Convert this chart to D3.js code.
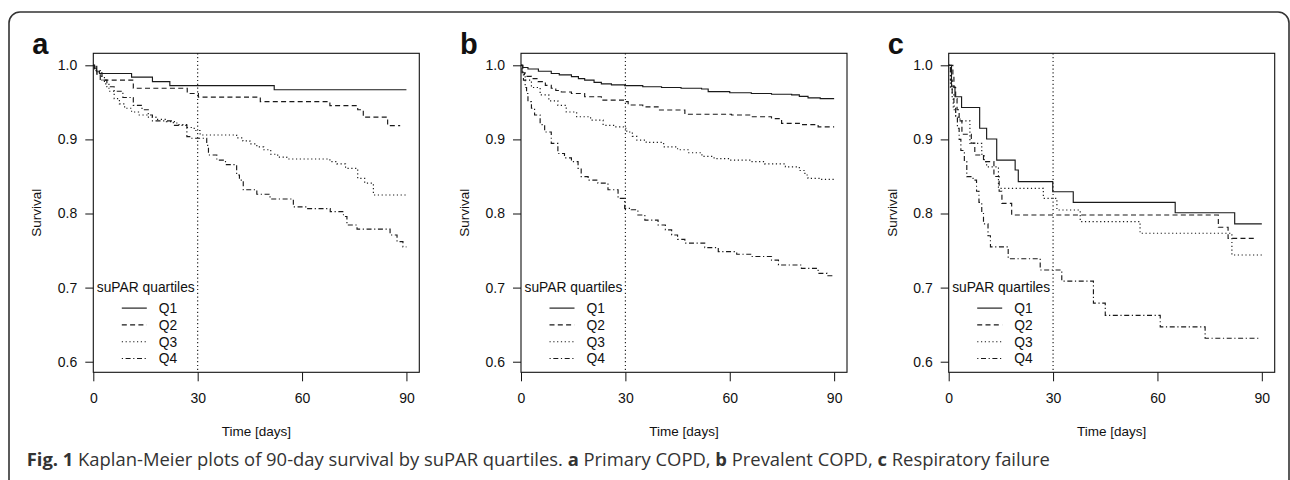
<!DOCTYPE html>
<html>
<head>
<meta charset="utf-8">
<script src="https://cdn.jsdelivr.net/npm/d3@7"></script>
<style>
  body { margin: 0; background: #fff; }
  svg text { font-family: "Liberation Sans", Arial, sans-serif; fill: #111; }
  .caption { font-family: "Open Sans", sans-serif; fill: #333; }
</style>
</head>
<body>
<svg id="chart" width="1290" height="480"></svg>
<script>
// 90-day Kaplan-Meier curves, [day, survival] (steps), last pair = end of follow-up
var aQ1 = [[0,1],[0.4,0.996],[0.9,0.992],[1.8,0.989],[11,0.984],[17,0.978],[22,0.9725],[52,0.967],[90,0.967]];
var aQ2 = [[0,1],[0.3,0.995],[1,0.988],[2,0.98],[11.5,0.969],[27,0.962],[30.2,0.957],[48,0.951],[68,0.9455],[76,0.94],[77.6,0.93],[84.6,0.9185],[88.2,0.9185]];
var aQ3 = [[0,1],[0.8,0.993],[2,0.985],[3.2,0.975],[4.5,0.965],[6,0.955],[7.5,0.948],[9,0.942],[11,0.937],[13,0.933],[15.4,0.93],[18,0.927],[21,0.924],[24,0.92],[27,0.916],[29,0.912],[30.7,0.906],[41.2,0.902],[43,0.898],[45,0.894],[47,0.89],[49,0.886],[51,0.88],[53,0.876],[55.6,0.8735],[68,0.87],[70,0.867],[72.5,0.861],[76,0.8475],[78,0.841],[80.5,0.825],[90,0.825]];
var aQ4 = [[0,1],[1,0.99],[2.5,0.98],[3.9,0.971],[6,0.965],[8.5,0.9565],[11.5,0.946],[14,0.94],[15.8,0.933],[17,0.925],[23,0.919],[26.9,0.9037],[28,0.9015],[32.6,0.892],[33.1,0.879],[35.5,0.872],[38,0.866],[41.2,0.852],[42,0.845],[43.1,0.832],[47,0.826],[50.8,0.8196],[57.5,0.809],[61.4,0.8065],[68.1,0.8025],[71.9,0.796],[72.9,0.7845],[75.8,0.779],[85.3,0.771],[87.3,0.762],[89,0.755],[90,0.755]];

var bQ1 = [[0,1],[0.5,0.997],[2,0.995],[5,0.992],[8.7,0.989],[11,0.987],[14.5,0.9847],[16.5,0.982],[18.3,0.98],[21,0.977],[23.1,0.975],[26,0.9735],[29.8,0.9725],[35,0.971],[40.4,0.97],[46,0.969],[51.9,0.968],[53.8,0.9644],[60,0.963],[66.2,0.962],[72,0.961],[77.8,0.96],[80,0.958],[82.5,0.956],[86,0.955],[90,0.955]];
var bQ2 = [[0,1],[0.5,0.99],[1,0.985],[3,0.982],[4.9,0.978],[7,0.973],[8.7,0.969],[10,0.966],[11.6,0.964],[14.5,0.962],[18.3,0.9576],[23.1,0.953],[29.8,0.951],[30.8,0.9464],[35,0.944],[39.4,0.9397],[47.1,0.934],[60.5,0.933],[66.2,0.9306],[72,0.928],[74.9,0.9217],[80,0.92],[85.4,0.917],[90,0.917]];
var bQ3 = [[0,1],[0.5,0.99],[1.2,0.98],[3,0.97],[5.5,0.96],[8,0.952],[10.6,0.946],[13,0.937],[16,0.9306],[20,0.926],[23.6,0.919],[27,0.917],[29.4,0.915],[30.4,0.91],[32,0.904],[33.3,0.899],[36,0.896],[41,0.89],[45,0.886],[48,0.882],[52,0.877],[55.5,0.874],[60,0.872],[66,0.87],[70,0.867],[76,0.863],[80,0.858],[81.6,0.852],[82.5,0.8475],[86,0.846],[90,0.846]];
var bQ4 = [[0,1],[0.3,0.99],[0.7,0.98],[1.2,0.97],[1.6,0.962],[2,0.951],[3,0.942],[3.9,0.933],[5.5,0.92],[6.8,0.91],[8.7,0.8947],[10.6,0.881],[12.5,0.875],[14.5,0.87],[16.4,0.861],[17.3,0.8497],[19.3,0.845],[22.1,0.841],[25,0.832],[27.9,0.8205],[29.8,0.807],[31.7,0.805],[33.6,0.798],[35.6,0.791],[39.4,0.7845],[41.5,0.778],[43.3,0.771],[45,0.765],[47.1,0.76],[52.8,0.754],[56.7,0.7485],[62,0.745],[66.2,0.742],[72,0.737],[74,0.7305],[80.6,0.726],[85.4,0.7193],[88,0.716],[90,0.716]];

var cQ1 = [[0,1],[0.8,0.971],[1.8,0.9576],[3.7,0.943],[8.9,0.915],[10.9,0.9005],[13.8,0.872],[19.1,0.8587],[20,0.843],[29.9,0.8294],[35.8,0.815],[65.1,0.801],[82.2,0.786],[90,0.786]];
var cQ2 = [[0,1],[1.2,0.985],[1.5,0.97],[2,0.955],[2.4,0.94],[3,0.925],[3.8,0.907],[6.5,0.895],[7.5,0.879],[10,0.87],[13,0.85],[14.5,0.83],[15.3,0.8137],[18.1,0.798],[77.5,0.7814],[80.3,0.7665],[88.6,0.7665]];
var cQ3 = [[0,1],[0.5,0.97],[1,0.955],[1.3,0.94],[2,0.93],[3.25,0.925],[6.1,0.8947],[9.5,0.88],[10.2,0.87],[10.9,0.863],[14.3,0.834],[27.2,0.8205],[31.1,0.8047],[37.8,0.789],[55,0.7733],[81.4,0.744],[90,0.744]];
var cQ4 = [[0,1],[0.5,0.98],[1,0.96],[1.5,0.945],[2,0.93],[2.5,0.915],[3,0.9],[3.5,0.885],[4.5,0.87],[5.2,0.8497],[7,0.845],[8,0.83],[8.7,0.815],[9.5,0.8],[10,0.786],[11.3,0.77],[12,0.755],[17.1,0.739],[26.3,0.7237],[32.5,0.7088],[41.6,0.679],[45,0.6625],[60.8,0.647],[73.7,0.6316],[89,0.6316]];

var panelLetters = ["a", "b", "c"];
var quartiles = ["Q1", "Q2", "Q3", "Q4"];
var xTicks = [0, 30, 60, 90];
var yTicks = [0.6, 0.7, 0.8, 0.9, 1.0];
var markDay = 30;
var legendTitle = "suPAR quartiles";

var svg = d3.select("#chart");
var panels = [
  {letter: panelLetters[0], left: 93.3, curves: [aQ1, aQ2, aQ3, aQ4]},
  {letter: panelLetters[1], left: 521, curves: [bQ1, bQ2, bQ3, bQ4]},
  {letter: panelLetters[2], left: 948.7, curves: [cQ1, cQ2, cQ3, cQ4]}
];
var plotTop = 53.3, w = 326, h = 319;
var dashes = [null, "5,3.3", "1.2,2.6", "1.2,2.6,5,2.6"];

// outer rounded frame
svg.append("rect")
  .attr("x", 9).attr("y", 12).attr("width", 1280).attr("height", 500)
  .attr("rx", 11).attr("fill", "none")
  .attr("stroke", "#333").attr("stroke-width", 1.6);

panels.forEach(function(p){
  var x = d3.scaleLinear().domain([0, 93.7]).range([0, w]);
  var y = d3.scaleLinear().domain([0.5857, 1.0162]).range([h, 0]);
  var g = svg.append("g").attr("transform", "translate(" + p.left + "," + plotTop + ")");

  //坐标轴
  var ya = g.append("g").call(d3.axisLeft(y).tickValues(yTicks).tickSize(8).tickPadding(8)
    .tickFormat(d3.format(".1f")));
  var xa = g.append("g").attr("transform", "translate(0," + h + ")")
    .call(d3.axisBottom(x).tickValues(xTicks).tickSize(9).tickPadding(12));
  [ya, xa].forEach(function(a){
    a.select(".domain").remove();
    a.selectAll("line").attr("stroke", "#111");
    a.selectAll("text").attr("font-size", 14).attr("fill", "#111")
      .attr("font-family", "Liberation Sans, Arial, sans-serif");
  });

  // vertical mark at day 30
  g.append("line")
    .attr("x1", x(markDay)).attr("x2", x(markDay)).attr("y1", 0).attr("y2", h)
    .attr("stroke", "#111").attr("stroke-width", 1.1).attr("stroke-dasharray", "1.2,2.6");

  // curves
  var line = d3.line().x(d => x(d[0])).y(d => y(d[1])).curve(d3.curveStepAfter);
  p.curves.forEach(function(c, i){
    g.append("path").datum(c).attr("d", line)
      .attr("fill", "none").attr("stroke", "#1a1a1a").attr("stroke-width", 1.15)
      .attr("stroke-dasharray", dashes[i]);
  });

  // box
  g.append("rect").attr("width", w).attr("height", h)
    .attr("fill", "none").attr("stroke", "#111").attr("stroke-width", 1.1);

  // legend
  var ly = y(0.7);
  g.append("text").attr("x", 3.5).attr("y", ly).attr("dy", "0.35em")
    .attr("font-size", 13.8).text(legendTitle);
  quartiles.forEach(function(q, i){
    var yy = ly + 20.5 + i * 16.8;
    g.append("line").attr("x1", 28.5).attr("x2", 53.5).attr("y1", yy).attr("y2", yy)
      .attr("stroke", "#1a1a1a").attr("stroke-width", 1.15).attr("stroke-dasharray", dashes[i]);
    g.append("text").attr("x", 65.5).attr("y", yy).attr("dy", "0.35em")
      .attr("font-size", 13.8).text(q);
  });

  // axis titles
  g.append("text").attr("x", w / 2).attr("y", 383)
    .attr("text-anchor", "middle").attr("font-size", 13.5).text("Time [days]");
  g.append("text").attr("transform", "translate(" + (-52) + "," + (h / 2) + ") rotate(-90)")
    .attr("text-anchor", "middle").attr("font-size", 13.5).text("Survival");

  // panel letter
  g.append("text").attr("x", -61).attr("y", 0.8)
    .attr("font-size", 29).attr("font-weight", "bold").text(p.letter);
});

// caption
var cap = svg.append("text").attr("class", "caption").attr("x", 26.7).attr("y", 465.5)
  .attr("font-size", 18.4);
cap.append("tspan").attr("font-weight", "bold").text("Fig. 1");
cap.append("tspan").text(" Kaplan-Meier plots of 90-day survival by suPAR quartiles. ");
cap.append("tspan").attr("font-weight", "bold").text("a");
cap.append("tspan").text(" Primary COPD, ");
cap.append("tspan").attr("font-weight", "bold").text("b");
cap.append("tspan").text(" Prevalent COPD, ");
cap.append("tspan").attr("font-weight", "bold").text("c");
cap.append("tspan").text(" Respiratory failure");
</script>
</body>
</html>
